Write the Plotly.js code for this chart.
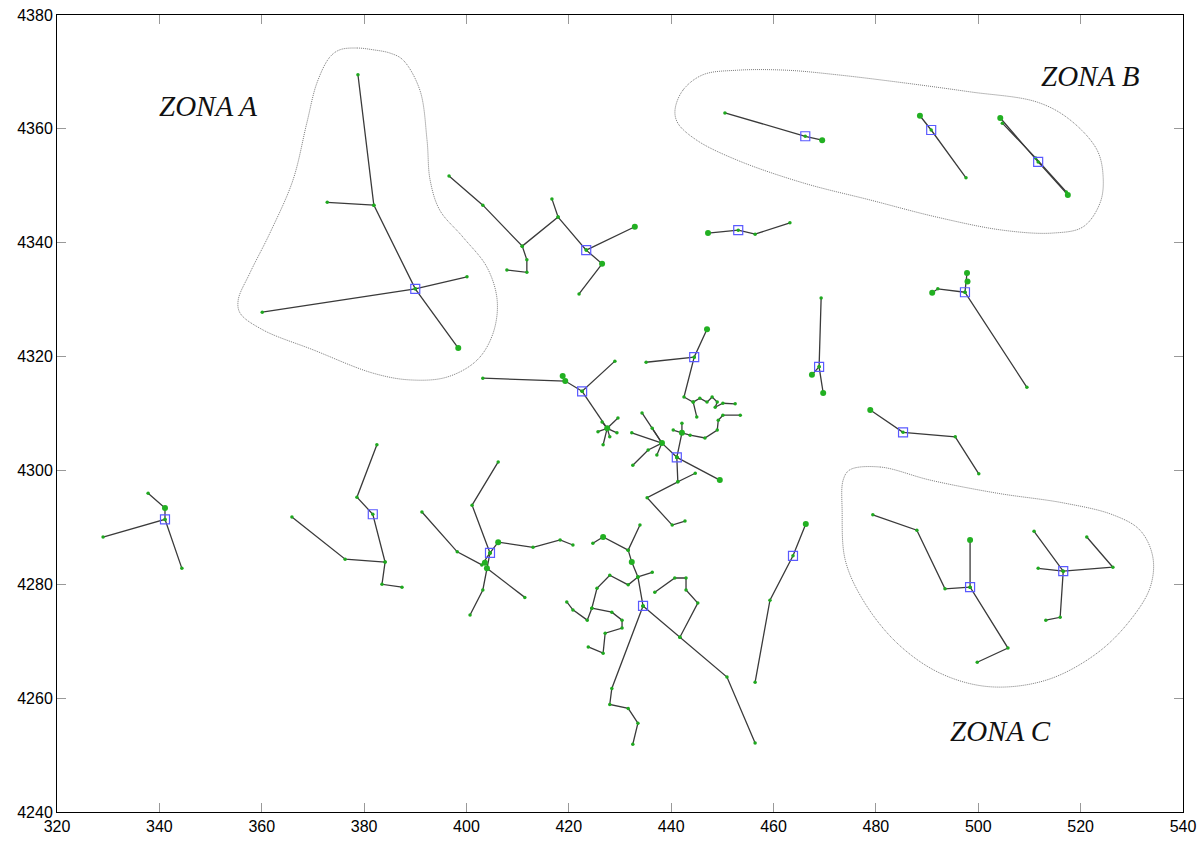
<!DOCTYPE html>
<html>
<head>
<meta charset="utf-8">
<script src="https://cdn.plot.ly/plotly-3.0.1.min.js"></script>
<style>html,body{margin:0;padding:0;background:#fff;}#chart{width:1201px;height:842px;}</style>
</head>
<body>
<div id="chart"></div>
<script>
// ---- Zone outlines (x, y in km-like map units) ----
const zoneA = [[375.3,4373.9],[378.6,4374.2],[381.7,4373.9],[385.1,4373.3],[387.6,4372.1],[390.9,4366.8],[392.3,4358.0],[392.9,4351.0],[394.8,4345.7],[399.3,4341.0],[404.0,4335.7],[406.0,4329.9],[405.2,4324.1],[402.1,4319.4],[396.2,4316.4],[389.0,4315.9],[381.7,4317.1],[370.0,4321.2],[360.2,4324.7],[355.8,4327.6],[355.4,4329.9],[357.7,4334.7],[361.6,4341.7],[366.1,4351.0],[368.8,4361.0],[370.8,4368.1],[373.3,4372.6],[375.3,4373.9]];
const zoneB = [[440.75,4363.3],[442.3,4366.8],[446.2,4369.5],[452.9,4370.3],[462.6,4370.3],[472.4,4369.5],[485.3,4368.1],[498.4,4366.5],[511.5,4364.7],[517.9,4361.6],[523.2,4356.3],[524.4,4351.5],[523.8,4347.0],[520.5,4342.8],[514.6,4341.7],[504.8,4342.2],[491.9,4344.5],[478.9,4347.5],[465.8,4350.5],[452.9,4354.5],[445.0,4358.0],[441.3,4361.0],[440.75,4363.3]];
const zoneC = [[474.9,4300.1],[480.8,4300.6],[490.6,4298.3],[503.7,4296.0],[516.6,4294.3],[526.3,4292.2],[531.6,4289.5],[534.1,4284.8],[533.6,4279.5],[529.7,4273.7],[523.2,4267.9],[513.4,4263.2],[502.3,4262.0],[492.5,4264.4],[484.1,4269.7],[477.5,4277.2],[474.0,4284.3],[473.4,4293.0],[473.6,4298.3],[474.9,4300.1]];

// ---- Networks: each is a list of branches (polylines) ----
const net1 = [
  [[378.8,4369.5],[381.9,4346.6],[390.0,4331.9],[398.4,4321.5]],
  [[381.9,4346.6],[372.8,4347.1]],
  [[360.1,4327.8],[390.0,4331.9],[400.1,4334.0]]
];
const net2 = [[[450.5,4362.8],[466.2,4358.7],[469.5,4358.0]]];
const net3 = [[[488.6,4362.3],[490.8,4359.8],[497.6,4351.4]]];
const net4 = [
  [[504.3,4361.9],[511.7,4354.2],[517.5,4348.4]],
  [[504.7,4361.0],[511.2,4354.9],[517.2,4348.9]]
];
const net5 = [[[447.2,4341.7],[453.1,4342.2],[456.4,4341.5],[463.2,4343.5]]];
const net6 = [
  [[396.6,4351.7],[403.2,4346.6],[410.9,4339.4],[411.8,4337.0],[411.8,4334.8],[407.9,4335.2]],
  [[410.9,4339.4],[417.9,4344.5],[416.7,4347.7]],
  [[417.9,4344.5],[423.4,4338.7],[432.9,4342.8]],
  [[423.4,4338.7],[426.5,4336.3],[422.0,4331.0]]
];
const net7 = [
  [[403.2,4316.2],[419.3,4315.7],[422.6,4313.9],[429.0,4319.2]],
  [[422.6,4313.9],[427.5,4307.4]],
  [[427.5,4307.4],[429.6,4309.2]],
  [[427.5,4307.4],[429.4,4306.6]],
  [[427.5,4307.4],[426.7,4304.5]],
  [[427.5,4307.4],[425.7,4306.8]],
  [[427.5,4307.4],[426.5,4308.5]],
  [[427.5,4307.4],[428.0,4305.9]]
];
const net8 = [
  [[447.0,4324.8],[444.5,4319.9],[435.1,4319.0]],
  [[444.5,4319.9],[442.5,4312.9],[444.3,4312.0],[445.0,4309.4]],
  [[444.3,4312.0],[445.6,4312.7],[447.0,4312.0],[448.0,4312.9],[449.0,4312.0],[448.6,4311.1],[450.1,4311.8],[452.5,4311.7]]
];
const net9 = [
  [[441.1,4302.3],[438.2,4304.8],[434.3,4310.1]],
  [[438.2,4304.8],[436.3,4307.4]],
  [[438.2,4304.8],[432.3,4306.6]],
  [[438.2,4304.8],[435.5,4303.6],[432.5,4300.9]],
  [[438.2,4304.8],[437.2,4302.7]],
  [[441.1,4302.3],[442.1,4306.6],[440.4,4307.1]],
  [[442.1,4306.6],[442.1,4308.3]],
  [[442.1,4306.6],[443.7,4306.2],[446.6,4305.7],[449.0,4307.1],[449.2,4308.8],[450.1,4309.7],[453.5,4309.7]],
  [[441.1,4302.3],[449.5,4298.3]],
  [[441.1,4302.3],[441.3,4298.0],[444.7,4299.5]],
  [[441.3,4298.0],[435.3,4295.2],[440.2,4290.4],[442.7,4291.1]]
];
const net10 = [
  [[434.5,4276.2],[441.7,4270.7],[450.9,4263.7],[456.4,4252.1]],
  [[441.7,4270.7],[445.2,4276.7],[442.9,4279.0],[442.9,4281.1],[440.7,4281.1],[436.8,4278.6]],
  [[434.5,4276.2],[428.4,4261.7],[428.0,4258.9],[431.6,4258.2],[433.5,4255.6],[432.5,4251.9]],
  [[434.5,4276.2],[433.5,4281.3],[432.3,4283.9],[431.6,4286.0],[433.9,4290.4]],
  [[431.6,4286.0],[426.7,4288.3],[424.7,4287.2]],
  [[433.5,4281.3],[436.3,4282.1]],
  [[433.5,4281.3],[431.6,4279.9],[428.0,4281.6],[425.5,4279.3],[424.5,4275.8],[423.6,4273.7],[420.8,4275.5],[419.6,4276.9]],
  [[424.5,4275.8],[428.4,4275.1],[430.4,4273.7],[430.4,4272.3],[427.1,4271.4],[426.7,4267.9],[423.8,4269.0]]
];
const net11 = [
  [[404.6,4285.5],[401.1,4293.9],[406.2,4301.5]],
  [[391.3,4292.7],[398.2,4285.7],[403.0,4283.4],[404.6,4285.5]],
  [[404.6,4285.5],[406.2,4287.4],[413.0,4286.5],[418.3,4287.8],[420.8,4286.9]],
  [[404.0,4282.8],[411.4,4277.7]],
  [[404.6,4285.5],[404.0,4282.8],[403.2,4279.0],[400.7,4274.6]]
];
const net12 = [
  [[329.0,4288.3],[341.1,4291.4],[344.4,4282.8]],
  [[341.1,4291.4],[341.1,4293.4],[337.8,4296.0]]
];
const net13 = [
  [[382.5,4304.5],[378.6,4295.3],[381.7,4292.3],[384.1,4283.9],[383.5,4280.0],[387.4,4279.5]],
  [[365.9,4291.8],[376.3,4284.4],[384.1,4283.9]]
];
const net14 = [[[466.3,4290.6],[463.8,4285.0],[459.3,4277.2],[456.4,4262.8]]];
const net15 = [
  [[469.3,4330.3],[468.9,4318.2],[467.5,4316.8]],
  [[468.9,4318.2],[469.7,4313.6]]
];
const net16 = [
  [[497.8,4334.7],[497.4,4331.3],[509.5,4314.6]],
  [[497.4,4331.3],[492.1,4331.9],[491.0,4331.2]]
];
const net17 = [[[478.9,4310.6],[485.3,4306.7],[495.5,4305.9],[500.1,4299.4]]];
const net18 = [
  [[498.4,4287.8],[498.4,4279.5],[505.8,4268.8],[499.8,4266.3]],
  [[498.4,4279.5],[493.5,4279.2],[488.0,4289.5],[479.4,4292.2]]
];
const net19 = [
  [[510.9,4289.3],[516.6,4282.3],[516.0,4274.2],[513.2,4273.7]],
  [[511.7,4282.8],[516.6,4282.3],[526.3,4283.0],[521.2,4288.3]]
];
const networks = [net1,net2,net3,net4,net5,net6,net7,net8,net9,net10,net11,net12,net13,net14,net15,net16,net17,net18,net19];

// ---- Centres (blue squares) ----
const centreX = [390.0,466.2,490.8,511.7,453.1,423.4,422.6,444.5,441.1,434.5,404.6,341.1,381.7,463.8,468.9,497.4,485.3,498.4,516.6];
const centreY = [4331.9,4358.7,4359.8,4354.2,4342.2,4338.7,4313.9,4319.9,4302.3,4276.2,4285.5,4291.4,4292.3,4285.0,4318.2,4331.3,4306.7,4279.5,4282.3];

// ---- Dense green clusters ----
const clusterX = [469.5,488.6,504.3,517.5,447.2,497.8,497.9,419.3,418.8,447.0,467.5,469.7,478.9,438.2,442.1,427.5,404.0,403.6,406.2,466.3,432.3,426.7,341.1,449.5,498.4,491.0,426.5,432.9,398.4];
const clusterY = [4358.0,4362.3,4361.9,4348.4,4341.7,4334.7,4333.2,4315.7,4316.6,4324.8,4316.8,4313.6,4310.6,4304.8,4306.6,4307.4,4282.8,4283.8,4287.4,4290.6,4283.9,4288.3,4293.4,4298.3,4287.8,4331.2,4336.3,4342.8,4321.5];

// ---- Zone labels ----
const zoneLabels = ["ZONA A","ZONA B","ZONA C"];
const zoneLabelX = [349.5,522.0,504.3];
const zoneLabelY = [4364.0,4369.3,4254.2];

function outlineTrace(pts){
  return {x:pts.map(p=>p[0]), y:pts.map(p=>p[1]), mode:'lines', type:'scatter',
    line:{color:'#7a7a7a', width:1, dash:'1px,1px', shape:'spline', smoothing:1.0},
    hoverinfo:'skip', showlegend:false};
}
const lx=[], ly=[], vx=[], vy=[];
networks.forEach(net=>net.forEach(br=>{
  br.forEach(p=>{lx.push(p[0]); ly.push(p[1]); vx.push(p[0]); vy.push(p[1]);});
  lx.push(null); ly.push(null);
}));

const traces = [
  outlineTrace(zoneA), outlineTrace(zoneB), outlineTrace(zoneC),
  {x:lx, y:ly, mode:'lines', type:'scatter', line:{color:'#3a3a3a', width:1.3}, hoverinfo:'skip', showlegend:false},
  {x:vx, y:vy, mode:'markers', type:'scatter', marker:{color:'#1fa81f', size:3.5, symbol:'circle'}, showlegend:false},
  {x:clusterX, y:clusterY, mode:'markers', type:'scatter', marker:{color:'#22b022', size:6, symbol:'circle'}, showlegend:false},
  {x:centreX, y:centreY, mode:'markers', type:'scatter', marker:{color:'#5a5aff', size:9, symbol:'square-open', line:{color:'#5a5aff', width:1.2}}, showlegend:false}
];

const axisCommon = {showgrid:false, zeroline:false, showline:true, linecolor:'#000', linewidth:1,
  mirror:'ticks', ticks:'inside', ticklen:9, tickcolor:'#999', tickwidth:1,
  tickfont:{family:'Liberation Sans, Arial, sans-serif', size:16, color:'#000'}, dtick:20, tickformat:'d'};

const layout = {
  width:1201, height:842,
  margin:{l:57, r:18, t:15, b:30},
  paper_bgcolor:'#fff', plot_bgcolor:'#fff',
  xaxis:Object.assign({}, axisCommon, {range:[320,540], tick0:320}),
  yaxis:Object.assign({}, axisCommon, {range:[4240,4380], tick0:4240}),
  annotations: zoneLabels.map((t,i)=>({x:zoneLabelX[i], y:zoneLabelY[i], xref:'x', yref:'y', text:t, showarrow:false,
    font:{family:'Liberation Serif, Times New Roman, serif', size:29, color:'#111', style:'italic'}})),
  showlegend:false
};

Plotly.newPlot('chart', traces, layout, {staticPlot:true});
</script>
</body>
</html>
